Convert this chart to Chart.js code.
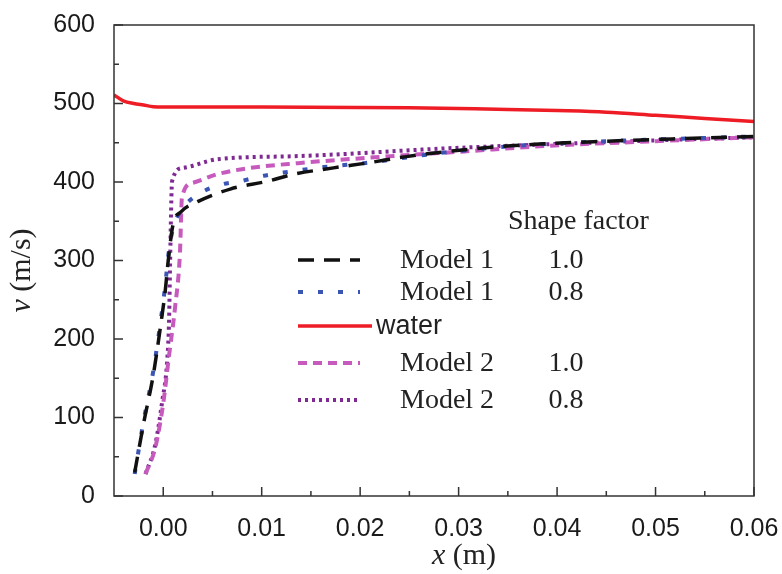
<!DOCTYPE html>
<html>
<head>
<meta charset="utf-8">
<script src="https://cdn.jsdelivr.net/npm/chart.js@4"></script>
<style>
  body { margin: 0; background: #fff; }
  canvas { display: block; }
</style>
</head>
<body>
<canvas id="velocityChart" width="782" height="574"></canvas>
<script>
// axis ticks
const xTicks = [0, 0.01, 0.02, 0.03, 0.04, 0.05, 0.06];
const xMinorTicks = [0.005, 0.015, 0.025, 0.035, 0.045, 0.055];
const yTicks = [0, 100, 200, 300, 400, 500, 600];
const yMinorTicks = [50, 150, 250, 350, 450, 550];

// Model 1, shape factor 1.0
const m1a_x = [-0.0029, -0.002, -0.001, -0.0003, 0.0002, 0.0005, 0.001, 0.0018, 0.0035, 0.0068, 0.0106, 0.0133, 0.0173, 0.0211, 0.0245, 0.0313, 0.0377, 0.045, 0.052, 0.06];
const m1a_v = [30, 92, 155, 214, 261, 299, 346, 362, 375, 391, 401, 410, 418, 425, 432, 442, 448, 452, 455, 458];

// Model 1, shape factor 0.8
const m1b_x = [-0.0029, -0.002, -0.001, -0.0003, 0.0002, 0.0005, 0.001, 0.0019, 0.0038, 0.006, 0.0078, 0.0102, 0.0122, 0.0163, 0.0204, 0.0282, 0.0357, 0.045, 0.052, 0.06];
const m1b_v = [28, 95, 160, 220, 268, 305, 341, 365, 386, 397, 401, 408, 412, 419, 424, 437, 446, 452, 455, 458];

// water
const water_x = [-0.005, -0.004, -0.003, -0.002, -0.001, 0.0, 0.01, 0.02, 0.025, 0.03, 0.035, 0.04, 0.045, 0.05, 0.055, 0.06];
const water_v = [511, 503, 500, 498, 496, 495.5, 495.5, 495, 494.5, 493.5, 492.5, 491, 489, 485, 481, 477];

// Model 2, shape factor 1.0
const m2a_x = [-0.0018, -0.0008, 0.0, 0.0006, 0.0012, 0.0017, 0.0019, 0.003, 0.0055, 0.0089, 0.0137, 0.0221, 0.0306, 0.039, 0.05, 0.06];
const m2a_v = [28, 62, 118, 180, 240, 310, 380, 399, 410, 418, 424, 432, 439, 446, 452, 457];

// Model 2, shape factor 0.8
const m2b_x = [-0.0018, -0.0008, -0.0001, 0.0004, 0.0006, 0.0007, 0.0009, 0.002, 0.0055, 0.0137, 0.029, 0.039, 0.05, 0.06];
const m2b_v = [28, 66, 121, 172, 227, 299, 401, 418, 429, 433, 443, 448, 453, 457];

const legendNames = ['Model 1', 'Model 1', 'water', 'Model 2', 'Model 2'];
const shapeFactors = ['1.0', '0.8', '', '1.0', '0.8'];

const pts = (xs, vs) => xs.map((x, i) => ({ x: x, y: vs[i] }));

const serif = '"Liberation Serif", "Times New Roman", serif';
const sans = '"Liberation Sans", Arial, sans-serif';

// frame with inward tick marks
const frameTicks = {
    id: 'frameTicks',
    afterDatasetsDraw(chart) {
        const { ctx, chartArea: a, scales: { x, y } } = chart;
        ctx.save();
        ctx.strokeStyle = '#333';
        ctx.lineWidth = 1.5;
        ctx.strokeRect(a.left, a.top, a.right - a.left, a.bottom - a.top);
        ctx.beginPath();
        xTicks.concat(xMinorTicks).forEach(v => {
            const p = x.getPixelForValue(v);
            const len = xTicks.includes(v) ? 9 : 5;
            ctx.moveTo(p, a.bottom);
            ctx.lineTo(p, a.bottom - len);
        });
        yTicks.concat(yMinorTicks).forEach(v => {
            const p = y.getPixelForValue(v);
            const len = yTicks.includes(v) ? 9 : 5;
            ctx.moveTo(a.left, p);
            ctx.lineTo(a.left + len, p);
        });
        ctx.stroke();
        ctx.restore();
    }
};

// axis titles with italic variable names
const axisTitles = {
    id: 'axisTitles',
    afterDraw(chart) {
        const { ctx, chartArea: a } = chart;
        const drawMixed = (italicPart, rest) => {
            ctx.font = 'italic 30px ' + serif;
            const w1 = ctx.measureText(italicPart).width;
            ctx.font = '30px ' + serif;
            const w2 = ctx.measureText(rest).width;
            let start = -(w1 + w2) / 2;
            ctx.font = 'italic 30px ' + serif;
            ctx.fillText(italicPart, start, 0);
            ctx.font = '30px ' + serif;
            ctx.fillText(rest, start + w1, 0);
        };
        ctx.save();
        ctx.fillStyle = '#222';
        ctx.textBaseline = 'middle';
        ctx.textAlign = 'left';
        ctx.translate((a.left + a.right) / 2 + 30, 556);
        drawMixed('x', ' (m)');
        ctx.restore();

        ctx.save();
        ctx.fillStyle = '#222';
        ctx.textBaseline = 'middle';
        ctx.textAlign = 'left';
        ctx.translate(22, (a.top + a.bottom) / 2 + 10);
        ctx.rotate(-Math.PI / 2);
        drawMixed('v', ' (m/s)');
        ctx.restore();
    }
};

// legend with the shape factor column
const shapeLegend = {
    id: 'shapeLegend',
    afterDraw(chart) {
        const { ctx } = chart;
        const rows = [260, 292, 326, 363, 400];
        ctx.save();
        ctx.fillStyle = '#222';
        ctx.textBaseline = 'middle';
        ctx.font = '28px ' + serif;
        ctx.textAlign = 'left';
        ctx.fillText('Shape factor', 508, 222);
        chart.data.datasets.forEach((ds, i) => {
            const yy = rows[i];
            ctx.beginPath();
            ctx.strokeStyle = ds.borderColor;
            ctx.lineWidth = ds.borderWidth;
            ctx.setLineDash(ds.borderDash || []);
            const x0 = 298, x1 = ds.borderDash ? 360 : 372;
            ctx.moveTo(x0, yy);
            ctx.lineTo(x1, yy);
            ctx.stroke();
            ctx.setLineDash([]);
            ctx.fillStyle = '#222';
            if (legendNames[i] === 'water') {
                ctx.font = '27px ' + sans;
                ctx.textAlign = 'left';
                ctx.fillText(legendNames[i], 376, yy + 1);
            } else {
                ctx.font = '28px ' + serif;
                ctx.textAlign = 'left';
                ctx.fillText(legendNames[i], 400, yy + 1);
                ctx.textAlign = 'center';
                ctx.fillText(shapeFactors[i], 566, yy + 1);
            }
        });
        ctx.restore();
    }
};

const ctx = document.getElementById('velocityChart').getContext('2d');
new Chart(ctx, {
    type: 'scatter',
    data: {
        datasets: [{
            label: legendNames[0] + ' ' + shapeFactors[0],
            data: pts(m1a_x, m1a_v),
            borderColor: '#111111',
            borderWidth: 3.5,
            borderDash: [16, 10]
        }, {
            label: legendNames[1] + ' ' + shapeFactors[1],
            data: pts(m1b_x, m1b_v),
            borderColor: '#3a55b4',
            borderWidth: 4,
            borderDash: [5, 15]
        }, {
            label: legendNames[2],
            data: pts(water_x, water_v),
            borderColor: '#ee1c25',
            borderWidth: 3.5
        }, {
            label: legendNames[3] + ' ' + shapeFactors[3],
            data: pts(m2a_x, m2a_v),
            borderColor: '#c75bbd',
            borderWidth: 4,
            borderDash: [9, 6]
        }, {
            label: legendNames[4] + ' ' + shapeFactors[4],
            data: pts(m2b_x, m2b_v),
            borderColor: '#7f2a92',
            borderWidth: 4,
            borderDash: [3, 4]
        }].map(d => Object.assign(d, {
            showLine: true,
            pointRadius: 0,
            cubicInterpolationMode: 'monotone',
            fill: false
        }))
    },
    options: {
        responsive: false,
        animation: false,
        layout: { padding: { top: 25, right: 28, left: 0, bottom: 0 } },
        plugins: {
            legend: { display: false },
            tooltip: { enabled: false }
        },
        scales: {
            x: {
                type: 'linear',
                min: -0.005,
                max: 0.06,
                afterBuildTicks: s => { s.ticks = xTicks.map(v => ({ value: v })); },
                afterFit: s => { s.height = 78; s.paddingRight = 0; s.paddingLeft = 0; },
                grid: { display: false },
                border: { display: false },
                ticks: {
                    padding: 10,
                    color: '#1a1a1a',
                    font: { family: sans, size: 25 },
                    callback: v => v.toFixed(2),
                    maxRotation: 0,
                    autoSkip: false
                }
            },
            y: {
                min: 0,
                max: 600,
                afterBuildTicks: s => { s.ticks = yTicks.map(v => ({ value: v })); },
                afterFit: s => { s.width = 114; s.paddingTop = 0; s.paddingBottom = 0; },
                grid: { display: false },
                border: { display: false },
                ticks: {
                    padding: 11,
                    color: '#1a1a1a',
                    font: { family: sans, size: 25 }
                }
            }
        }
    },
    plugins: [frameTicks, axisTitles, shapeLegend]
});
</script>
</body>
</html>
